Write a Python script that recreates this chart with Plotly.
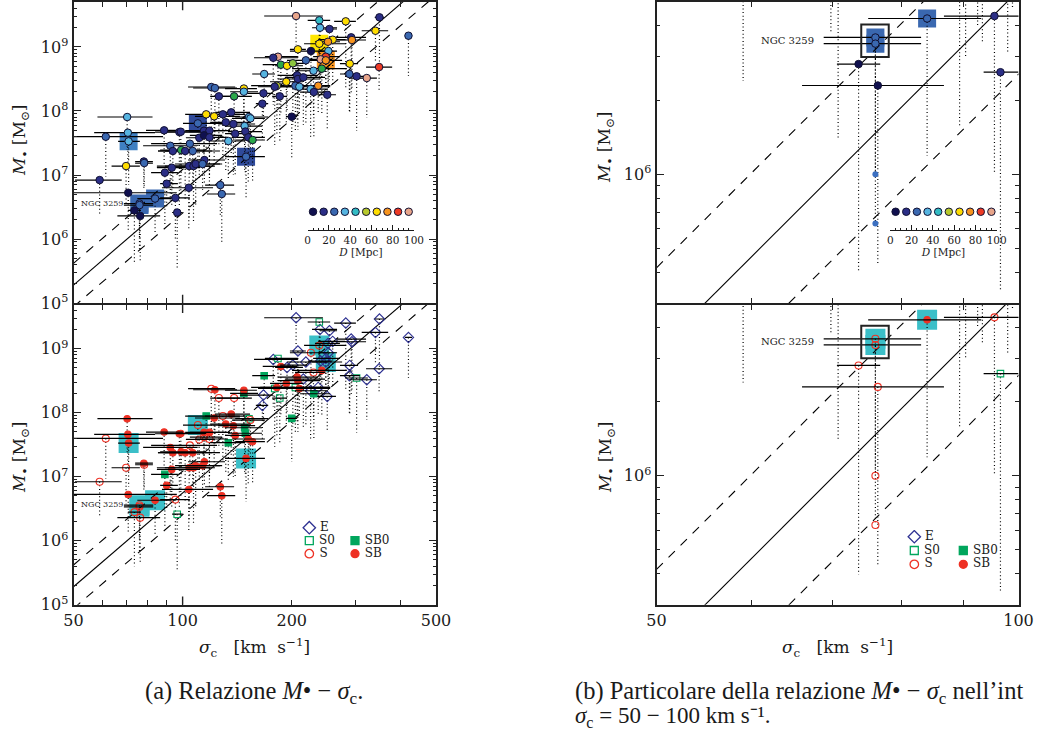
import numpy as np
import plotly.graph_objects as go

# ---------- data (log10 units for sigma and M) ----------
log_sigma = [1.847,1.849,1.851,1.788,1.949,1.991,1.995,2.079,2.089,2.100,2.142,2.169,2.169,2.065,2.087,2.111,2.134,2.042,2.119,2.140,
             2.171,2.173,2.183,2.187,2.059,2.074,2.046,2.059,2.074,2.145,2.126,2.181,2.193,2.020,1.966,1.996,1.973,2.007,2.028,2.060,
             1.893,1.894,1.844,1.771,1.850,1.951,1.970,2.018,2.030,2.036,2.055,1.956,2.017,2.104,2.108,1.980,1.985,1.881,1.881,1.924,
             1.867,1.883,2.313,2.377,2.450,2.543,2.379,2.405,2.532,2.623,2.465,2.467,2.414,2.401,2.377,2.318,2.354,2.402,2.395,2.381,
             2.395,2.263,2.250,2.271,2.288,2.304,2.340,2.461,2.542,2.384,2.361,2.225,2.316,2.318,2.333,2.460,2.480,2.508,2.286,2.374,
             2.260,2.254,2.311,2.322,2.353,2.362,2.223,2.399,2.268,2.220,2.301,2.175]
log_mbh = [7.906,7.661,7.526,7.598,7.698,7.671,7.676,8.375,8.359,8.229,8.229,8.351,8.301,7.948,7.917,7.948,7.979,7.807,7.823,7.797,
           7.765,7.679,7.906,7.885,7.692,7.692,7.582,7.620,7.589,7.645,7.531,7.589,7.547,7.489,7.457,7.390,7.375,7.375,7.375,7.234,
           7.211,7.187,7.140,6.921,6.723,7.036,7.114,7.140,7.140,7.172,7.172,6.864,6.801,6.843,6.703,6.642,6.414,6.555,6.530,6.632,
           6.447,6.360,9.484,9.417,9.401,9.464,9.301,9.281,9.254,9.176,9.151,9.109,9.114,9.082,9.051,8.964,8.937,8.937,8.848,8.807,
           8.792,8.848,8.832,8.723,8.707,8.745,8.792,8.739,8.687,8.661,8.629,8.578,8.557,8.500,8.526,8.578,8.542,8.515,8.457,8.395,
           8.395,8.379,8.395,8.379,8.343,8.296,8.276,8.254,8.229,8.114,7.911,7.286]
sigma_low = [1.765,1.756,1.822,1.700,1.899,1.924,1.951,2.015,2.029,2.076,2.095,2.117,2.131,2.007,2.034,2.062,2.089,2.001,2.076,2.098,
             2.117,2.125,2.145,2.136,2.007,2.020,2.009,2.020,2.034,2.117,2.076,2.136,2.145,1.913,1.891,1.938,1.932,1.951,1.932,2.015,
             1.869,1.869,1.804,1.703,1.700,1.913,1.929,1.929,1.951,1.979,2.007,1.938,1.943,2.062,2.067,1.938,1.971,1.838,1.838,1.875,
             1.849,1.820,2.225,2.345,2.418,2.530,2.357,2.379,2.494,2.613,2.425,2.426,2.374,2.365,2.335,2.296,2.296,2.374,2.360,2.346,
             2.357,2.227,2.197,2.221,2.255,2.269,2.288,2.434,2.506,2.302,2.310,2.192,2.263,2.263,2.282,2.434,2.448,2.462,2.241,2.324,
             2.214,2.208,2.189,2.269,2.310,2.324,2.158,2.371,2.247,2.202,2.285,2.117]
sigma_high = [1.917,1.924,1.882,1.946,2.001,2.062,2.065,2.145,2.150,2.158,2.191,2.205,2.208,2.158,2.158,2.172,2.186,2.109,2.186,2.200,
              2.219,2.219,2.236,2.227,2.117,2.131,2.089,2.109,2.125,2.186,2.172,2.227,2.227,2.095,2.040,2.062,2.034,2.081,2.103,2.117,
              1.918,1.918,1.882,1.832,1.984,1.987,2.048,2.076,2.089,2.103,2.109,1.987,2.084,2.142,2.145,2.020,2.000,1.919,1.919,1.969,
              1.885,1.938,2.387,2.407,2.478,2.555,2.426,2.426,2.567,2.633,2.506,2.506,2.448,2.434,2.451,2.340,2.401,2.426,2.434,2.412,
              2.440,2.318,2.318,2.316,2.332,2.343,2.398,2.484,2.578,2.453,2.393,2.255,2.373,2.379,2.393,2.489,2.511,2.536,2.332,2.407,
              2.310,2.302,2.407,2.407,2.401,2.407,2.249,2.423,2.288,2.236,2.316,2.227]
mbh_limit = [7.390,7.078,6.843,6.973,7.156,6.490,6.670,7.734,7.625,7.468,7.547,7.625,7.547,7.390,7.156,7.234,7.312,7.156,7.078,7.000,
             7.078,7.000,7.390,7.312,7.078,7.000,6.953,7.156,6.843,7.000,6.922,6.875,6.875,7.000,6.600,7.000,6.766,6.609,6.766,6.843,
             6.797,6.797,6.570,6.378,6.143,6.193,6.530,6.300,6.280,6.530,6.766,6.475,6.140,6.375,5.937,6.000,5.530,6.000,5.800,6.075,
             5.600,5.630,9.030,8.875,8.359,8.703,8.406,8.484,8.750,8.547,8.250,8.359,8.406,8.406,8.515,8.200,8.250,8.359,8.328,8.328,
             8.296,8.015,8.093,7.937,8.015,7.781,7.781,7.968,8.296,7.968,7.937,8.250,7.859,7.703,7.781,7.968,7.692,7.890,7.781,7.984,
             7.625,7.468,7.703,7.937,7.578,7.600,7.859,7.703,7.520,7.547,7.234,6.609]
distance = [35,35,35,25,15,15,15,25,25,15,50,65,35,65,65,15,15,25,15,15,
            35,15,35,35,15,15,15,5,15,15,35,15,50,25,25,50,15,15,25,15,
            15,25,65,15,5,15,15,15,15,15,25,15,15,25,25,15,15,25,25,25,
            5,5,95,45,65,15,35,15,65,25,15,75,65,75,65,65,5,35,85,95,
            75,95,15,50,65,52,25,65,85,50,35,35,15,15,15,25,15,95,65,75,
            55,15,25,35,35,15,15,15,15,15,5,25]
morphology = ["SB","SB","SB","S","SB","SB","SB","S","SB","S","S","SB","SB0","SB0","SB","S","SB","S","SB","SB",
              "SB0","SB0","S0","S","SB","SB","S","S","S","SB","SB0","SB","SB","S","SB","SB","SB","SB","SB","SB",
              "SB","S","S","S","SB","SB0","SB","SB","SB","SB","SB","SB","SB","SB","SB","S","S0","S","S","SB",
              "S","S","E","S0","E","E","E","E","E","E","E","E","E","E","S","E","S","E","E","E",
              "E","S0","E","SB","E","E","E","E","E","SB","S","SB0","SB","SB","E","E","S0","E","SB","E",
              "SB","S0","S0","SB","E","SB0","E","E","S0","E","SB0","SB"]
boxed_index = [2,17,57,58,59,111,74,80]
boxed_color = ["#3f80c2","#2f4a9a","#3a68b0","#3a68b0","#3a68b0","#2f4a9a","#ffe600","#f7941d"]
limit_point_sigma = [1.881,1.881]
limit_point_mbh = [6.000,5.800]
relation_slope = 4.87
relation_zero = 5.28      # log M at sigma = 50
relation_scatter = 0.34
label_name = "NGC 3259"
box_sigma = [74.0, 78.0]
box_mbh = [10**6.476, 10**6.608]
d_bins = [5,15,25,35,45,55,65,75,85,95]
palette = {5:"#10104f",15:"#2b2e86",25:"#3a68b0",35:"#56b4e0",45:"#33bcc4",50:"#2ba84a",52:"#8cc63f",
           55:"#b7c92c",65:"#ffdd00",75:"#f7941d",85:"#ee3a24",95:"#e8a58a"}
morph_names = ["E","S0","S","SB0","SB"]
morph_col = [0,0,0,1,1]
morph_row = [0,1,2,1,2]
RED, GREEN, NAVY = "#ee3124", "#00a65d", "#2e3192"
CYAN = "#3bbfc8"
morph_style = {"E":("diamond-open",NAVY,8),"S0":("square-open",GREEN,6.5),"S":("circle-open",RED,7),
               "SB0":("square",GREEN,6.5),"SB":("circle",RED,6.5)}

W, H = 1037, 735
SERIF = "DejaVu Serif"
INK = "#1a1a1a"
def dx(a,b): return [a/W, b/W]
def dy(top,bot): return [1-bot/H, 1-top/H]

s = np.array(log_sigma); m = np.array(log_mbh)
sig = 10**s; mbh = 10**m
fig = go.Figure()

def segs(a0,a1):
    out=[]
    for p,q in zip(a0,a1): out += [p,q,None]
    return out

def panel(xn,yn,colored,right):
    cols = boxed_color if colored else [CYAN]*len(boxed_index)
    fig.add_trace(go.Scatter(x=sig[boxed_index],y=mbh[boxed_index],mode="markers",xaxis=xn,yaxis=yn,showlegend=False,
        marker=dict(symbol="square",size=18 if colored else 20,color=cols,line=dict(width=0))))
    xs = np.array([50.0,500.0])
    ys = relation_zero+relation_slope*np.log10(xs/50)
    fig.add_trace(go.Scatter(x=xs,y=10**ys,mode="lines",xaxis=xn,yaxis=yn,showlegend=False,line=dict(color="black",width=1.1)))
    for sg in (1,-1):
        fig.add_trace(go.Scatter(x=xs,y=10**(ys+sg*relation_scatter),mode="lines",xaxis=xn,yaxis=yn,showlegend=False,
            line=dict(color="black",width=1.1,dash="9px,8px")))
    fig.add_trace(go.Scatter(x=segs(sig,sig),y=segs(mbh,10**np.array(mbh_limit)),mode="lines",xaxis=xn,yaxis=yn,showlegend=False,
        line=dict(color="black",width=1.2,dash="1px,2.6px")))
    ebar = go.Scatter(x=segs(10**np.array(sigma_low),10**np.array(sigma_high)),y=segs(mbh,mbh),mode="lines",xaxis=xn,yaxis=yn,
        showlegend=False,line=dict(color="black",width=1.2))
    if colored:
        fig.add_trace(ebar)
        fig.add_trace(go.Scatter(x=sig,y=mbh,mode="markers",xaxis=xn,yaxis=yn,showlegend=False,
            marker=dict(size=7.5,color=[palette[d] for d in distance],line=dict(color="#111133",width=1))))
        if right:
            fig.add_trace(go.Scatter(x=10**np.array(limit_point_sigma),y=10**np.array(limit_point_mbh),mode="markers",xaxis=xn,yaxis=yn,
                showlegend=False,marker=dict(size=6,color="#3b6fc0")))
    else:
        for name in morph_names:
            idx=[i for i,k in enumerate(morphology) if k==name]
            sym,c,sz=morph_style[name]
            fig.add_trace(go.Scatter(x=sig[idx],y=mbh[idx],mode="markers",xaxis=xn,yaxis=yn,showlegend=False,
                marker=dict(symbol=sym,size=sz,color=c,line=dict(color=c,width=1.1))))
        if right:
            fig.add_trace(go.Scatter(x=10**np.array(limit_point_sigma),y=10**np.array(limit_point_mbh),mode="markers",xaxis=xn,yaxis=yn,
                showlegend=False,marker=dict(symbol="circle-open",size=7,color=RED,line=dict(color=RED,width=1.1))))
        fig.add_trace(ebar)

panel("x","y",True,False)
panel("x2","y2",True,True)
panel("x3","y3",False,False)
panel("x4","y4",False,True)

for xn,yn in (("x5","y5"),("x6","y6")):
    fig.add_trace(go.Scatter(x=d_bins,y=[0.73]*10,mode="markers",xaxis=xn,yaxis=yn,showlegend=False,
        marker=dict(size=7.5,color=[palette[d] for d in d_bins],line=dict(color="#111133",width=1))))
for xn,yn in (("x7","y7"),("x8","y8")):
    for k,c,r in zip(morph_names,morph_col,morph_row):
        sym,col,sz=morph_style[k]
        fig.add_trace(go.Scatter(x=[c],y=[r],mode="markers+text",text=[" "+k],textposition="middle right",xaxis=xn,yaxis=yn,showlegend=False,
            textfont=dict(family=SERIF,size=12,color=INK),marker=dict(symbol=sym,size=sz+1.5,color=col,line=dict(color=col,width=1.3))))

frame = dict(showline=True,linewidth=2,linecolor="#222222",mirror="ticks",ticks="inside",tickcolor="#222222",tickwidth=1.4,
             showgrid=False,zeroline=False,type="log",tickfont=dict(family=SERIF,size=16,color=INK))
def xax(dom,rng,vals,labels,minor,show,anchor):
    return dict(frame,domain=dom,range=rng,tickmode="array",tickvals=vals,ticktext=labels,ticklen=5,showticklabels=show,anchor=anchor,
                minor=dict(ticks="inside",tickvals=minor,ticklen=5,tickcolor="#222222",tickwidth=1.2,showgrid=False))
def yax(dom,rng,vals,minor,anchor):
    return dict(frame,domain=dom,range=rng,tickmode="array",tickvals=vals,ticktext=["10<sup>%d</sup>"%round(np.log10(v)) for v in vals],
                ticklen=7,anchor=anchor,minor=dict(ticks="inside",tickvals=minor,ticklen=3.5,tickcolor="#222222",tickwidth=1.2,showgrid=False))

lx = dx(73.5,436); rx = dx(656.5,1018.5)
up = dy(2,303); lo = dy(305,604.7)
xl_vals=[50,100,200,500]; xl_text=["50","100","200","500"]; xl_minor=[60,70,80,90,300,400]
xr_vals=[50,100]; xr_text=["50","100"]; xr_minor=[60,70,80,90]
yl_vals=[1e5,1e6,1e7,1e8,1e9]
yl_minor=[k*10**n for n in range(5,10) for k in range(2,10) if k*10**n<5.2e9]
yr_vals=[1e6]
yr_minor=[3e5,4e5,5e5,6e5,7e5,8e5,9e5,2e6,3e6,4e6]
yl_up=[5.0,9.703]; yl_lo=[5.0,9.683]
yr_up=[np.log10(3e5),np.log10(5e6)]; yr_lo=[np.log10(3e5),6.692]
xlr=[np.log10(50),np.log10(500)]; xrr=[np.log10(50),np.log10(100)]

strip = dict(type="linear",range=[0,100],tickmode="array",tickvals=[0,20,40,60,80,100],ticks="inside",ticklen=5,tickwidth=1,tickcolor=INK,
             showline=True,linewidth=1,linecolor=INK,showgrid=False,zeroline=False,tickfont=dict(family=SERIF,size=10.5,color=INK),
             title=dict(text="<i>D</i> [Mpc]",font=dict(family=SERIF,size=10.5,color=INK),standoff=3),
             minor=dict(ticks="inside",dtick=5,ticklen=2.5,tickwidth=1,tickcolor=INK,showgrid=False))
hide = dict(visible=False,showgrid=False,zeroline=False,tickmode="array",tickvals=[])

fig.update_layout(
    width=W,height=H,margin=dict(l=0,r=0,t=0,b=0,pad=0,autoexpand=False),paper_bgcolor="white",plot_bgcolor="rgba(0,0,0,0)",showlegend=False,
    xaxis=xax(lx,xlr,xl_vals,xl_text,xl_minor,False,"y"),
    yaxis=yax(up,yl_up,yl_vals,yl_minor,"x"),
    xaxis2=xax(rx,xrr,xr_vals,xr_text,xr_minor,False,"y2"),
    yaxis2=yax(up,yr_up,yr_vals,yr_minor,"x2"),
    xaxis3=xax(lx,xlr,xl_vals,xl_text,xl_minor,True,"y3"),
    yaxis3=yax(lo,yl_lo,yl_vals,yl_minor,"x3"),
    xaxis4=xax(rx,xrr,xr_vals,xr_text,xr_minor,True,"y4"),
    yaxis4=yax(lo,yr_lo,yr_vals,yr_minor,"x4"),
    xaxis5=dict(strip,domain=dx(307.7,414),anchor="y5"),
    yaxis5=dict(hide,domain=dy(205,230),range=[0,1],anchor="x5"),
    xaxis6=dict(strip,domain=dx(890.3,996.7),anchor="y6"),
    yaxis6=dict(hide,domain=dy(205,230),range=[0,1],anchor="x6"),
    xaxis7=dict(hide,domain=dx(300,400),range=[-0.2035,1.985],anchor="y7"),
    yaxis7=dict(hide,domain=dy(520,560),range=[2.485,-0.59],anchor="x7"),
    xaxis8=dict(hide,domain=dx(905,1005),range=[-0.19,1.851],anchor="y8"),
    yaxis8=dict(hide,domain=dy(530,570),range=[2.413,-0.4855],anchor="x8"),
)

shapes=[]
for xn,yn in (("x","y"),("x3","y3")):
    for y0,y1 in ((0,0.027),(1,0.973)):
        shapes.append(dict(type="line",xref=xn,yref=yn+" domain",x0=100,x1=100,y0=y0,y1=y1,line=dict(color="#222222",width=1.4)))
for xn,yn in (("x2","y2"),("x4","y4")):
    shapes.append(dict(type="rect",xref=xn,yref=yn,x0=box_sigma[0],x1=box_sigma[1],y0=box_mbh[0],y1=box_mbh[1],
                       line=dict(color="#222222",width=2)))
fig.update_layout(shapes=shapes)

def note(text,px,py,size,family=SERIF,angle=0,anchor="center"):
    fig.add_annotation(text=text,x=px/W,y=1-py/H,xref="paper",yref="paper",showarrow=False,xanchor=anchor,yanchor="middle",
                       textangle=angle,font=dict(family=family,size=size,color=INK),align="left")
ylab="<i>M</i><sub>•</sub> [M<sub>⊙</sub>]"
xlab="<i>σ</i><sub>c</sub>   [km  s<sup>−1</sup>]"
note(ylab,20,140,17,angle=-90); note(ylab,20,457,17,angle=-90)
note(ylab,606,147,17,angle=-90); note(ylab,606,457,17,angle=-90)
note(xlab,254,647,17); note(xlab,837,647,17)
CAP="Liberation Serif"
note("(a) Relazione <i>M</i>• − <i>σ</i><sub>c</sub>.",254,692,24.5,CAP)
note("(b) Particolare della relazione <i>M</i>• − <i>σ</i><sub>c</sub> nell’int",573,692,24.5,CAP,anchor="left")
note("<i>σ</i><sub>c</sub> = 50 − 100 km s⁻¹.",573,717,23,CAP,anchor="left")

for xn,yn,xv,yv,size in (("x","y",1.7776,6.547,8),("x3","y3",1.7776,6.558,8),("x2","y2",np.log10(64.3),6.544,10),("x4","y4",np.log10(64.3),6.544,10)):
    fig.add_annotation(text=label_name,x=xv,y=yv,xref=xn,yref=yn,showarrow=False,font=dict(family=SERIF,size=size,color=INK))

fig.write_html("out.html",config=dict(displayModeBar=False),
    post_script="document.body.style.margin='0';document.documentElement.style.overflow='hidden';")
